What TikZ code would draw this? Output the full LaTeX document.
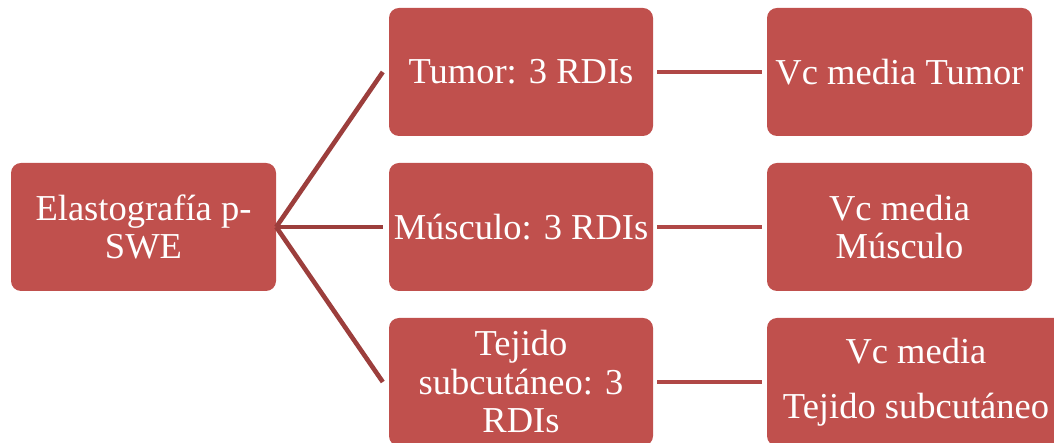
\documentclass[tikz,border=0pt]{standalone}
\usepackage{fontspec}
\setmainfont{Liberation Serif}
\definecolor{boxred}{RGB}{192,80,77}
\definecolor{linkdark}{RGB}{156,62,60}
\definecolor{linkmid}{RGB}{176,72,70}
\begin{document}
\begin{tikzpicture}[x=1pt,y=1pt,
  box/.style={fill=boxred, draw=none, rounded corners=10pt, text=white, align=center,
    inner sep=0pt, font=\fontsize{36.5}{38.5}\selectfont},
  leftlink/.style={draw=linkdark, line width=4.6pt},
  rightlink/.style={draw=linkmid, line width=4.5pt}]
\useasboundingbox (0,0) rectangle (1054,443);
% left
\node[box, minimum width=265pt, minimum height=128pt] (L) at (143.5,216) {Elastografía p-\\SWE};
% middle column
\node[box, minimum width=264pt, minimum height=128pt] (T) at (521,371) {Tumor: 3 RDIs};
\node[box, minimum width=264pt, minimum height=128pt] (M) at (521,216) {Músculo: 3 RDIs};
\node[box, minimum width=264pt, minimum height=128pt] (S) at (521,61) {Tejido\\subcutáneo: 3\\RDIs};
% right column
\node[box, minimum width=265pt, minimum height=128pt] (VT) at (899.5,371) {Vc media Tumor};
\node[box, minimum width=265pt, minimum height=128pt] (VM) at (899.5,216) {Vc media\\Músculo};
\node[box, minimum width=298pt, minimum height=128pt] (VS) at (916,61) {Vc media\\[16.5pt]Tejido subcutáneo};
% connectors
\draw[leftlink] (L.east) -- ([xshift=-6pt]T.west);
\draw[leftlink] (L.east) -- ([xshift=-6pt]M.west);
\draw[leftlink] (L.east) -- ([xshift=-6pt]S.west);
\draw[rightlink] ([xshift=4pt]T.east) -- ([xshift=-5pt]VT.west);
\draw[rightlink] ([xshift=4pt]M.east) -- ([xshift=-5pt]VM.west);
\draw[rightlink] ([xshift=4pt]S.east) -- ([xshift=-5pt]VS.west);
\end{tikzpicture}
\end{document}
